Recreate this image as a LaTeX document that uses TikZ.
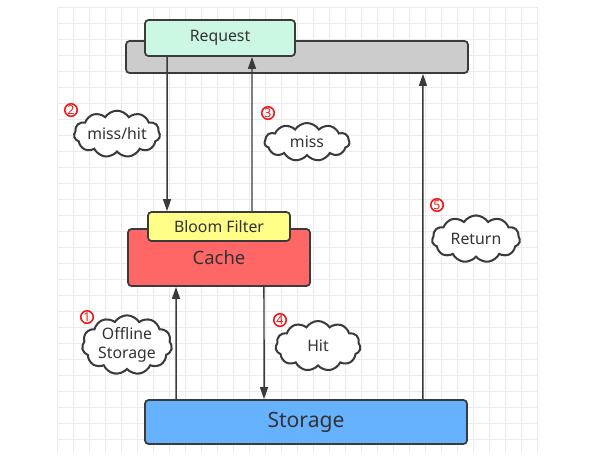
\documentclass[tikz,border=0pt]{standalone}
\usepackage{fontspec}
\setmainfont{Noto Sans}
\usepackage{tikz}
\usetikzlibrary{arrows.meta,shapes.symbols}
\definecolor{reqgreen}{HTML}{CCF7E3}
\definecolor{barGray}{HTML}{CCCCCC}
\definecolor{cacheRed}{HTML}{FF6666}
\definecolor{bloomYellow}{HTML}{FFFF88}
\definecolor{storeBlue}{HTML}{66B2FF}
\definecolor{lineDark}{HTML}{3A3A3A}
\definecolor{gridGray}{HTML}{EBEBEB}
\definecolor{numRed}{HTML}{F01818}

\begin{document}
\begin{tikzpicture}[x=0.02cm,y=-0.02cm,
  box/.style={draw=lineDark,line width=1pt,rounded corners=2pt,align=center,
     font=\fontsize{9}{11}\selectfont,text=black!80,inner sep=0pt},
  arr/.style={-{Triangle[length=2.4mm,width=1.6mm]},line width=0.85pt,draw=lineDark},
  note/.style={cloud,cloud puffs=11,cloud puff arc=115,draw=lineDark,line width=1.15pt,
     fill=white,inner sep=0pt,align=center,font=\fontsize{9}{10.5}\selectfont,text=black!80},
  num/.style={circle,draw=numRed,line width=0.9pt,minimum size=0.25cm,inner sep=0pt,
     text=numRed,font=\fontsize{7}{7}\selectfont\bfseries}]
\useasboundingbox (0,0) rectangle (598,458);
% background grid
\foreach \gx in {57,73,...,537} \draw[gridGray,line width=0.4pt] (\gx,7) -- (\gx,452);
\foreach \gy in {7,23,...,451} \draw[gridGray,line width=0.4pt] (57,\gy) -- (538,\gy);
% boxes
\node[box,fill=barGray,minimum width=6.84cm,minimum height=0.64cm] (bar) at (297,57) {};
\node[box,fill=reqgreen,minimum width=3cm,minimum height=0.72cm] (request) at (220,38) {Request};
\node[box,fill=cacheRed,minimum width=3.64cm,minimum height=1.14cm,
  font=\fontsize{10.5}{12}\selectfont] (cache) at (219,257.5) {\raisebox{-1.5mm}{Cache}};
\node[box,fill=bloomYellow,minimum width=2.84cm,minimum height=0.58cm] (bloom) at (219,226.5) {Bloom Filter};
\node[box,fill=storeBlue,minimum width=6.44cm,minimum height=0.88cm,
  font=\fontsize{12}{14}\selectfont] (storage) at (306,422) {Storage};
% clouds
\node[note,minimum width=1.7cm,minimum height=0.7cm,aspect=2.4] (c2) at (117,134) {miss/hit};
\node[note,minimum width=1.7cm,minimum height=0.76cm,aspect=2.2] (c3) at (307,142) {miss};
\node[note,minimum width=1.8cm,minimum height=1.04cm,aspect=1.7] (c1) at (127,345) {Offline\\Storage};
\node[note,minimum width=1.7cm,minimum height=1cm,aspect=1.7] (c4) at (318,346) {Hit};
\node[note,minimum width=1.76cm,minimum height=0.94cm,aspect=1.9] (c5) at (476,239) {Return};
% step numbers
\node[num] (n1) at (87,317) {1};
\node[num] (n2) at (71,110) {2};
\node[num] (n3) at (268,113) {3};
\node[num] (n4) at (280,320) {4};
\node[num] (n5) at (437,205) {5};
% arrows
\draw[arr] ([xshift=-1.06cm]request.south) -- ([xshift=-1.04cm]bloom.north);
\draw[arr] ([xshift=0.66cm]bloom.north) -- ([xshift=0.64cm]request.south);
\draw[arr] ([xshift=-2.6cm]storage.north) -- ([xshift=-0.86cm]cache.south);
\draw[arr] ([xshift=0.9cm]cache.south) -- ([xshift=-0.84cm]storage.north);
\draw[arr] ([xshift=2.34cm]storage.north) -- ([xshift=2.52cm]bar.south);
\end{tikzpicture}
\end{document}
